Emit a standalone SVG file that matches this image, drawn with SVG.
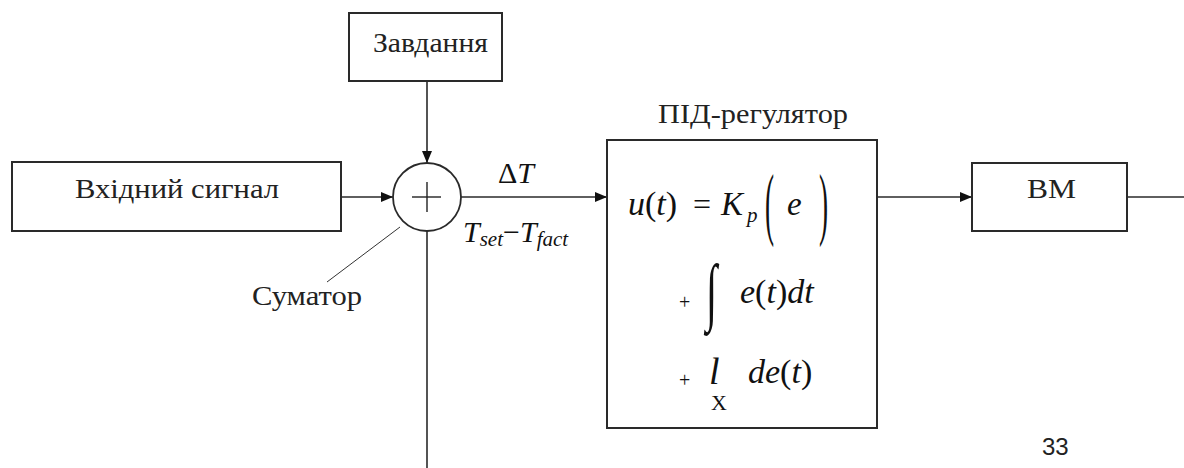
<svg xmlns="http://www.w3.org/2000/svg" width="1184" height="468" viewBox="0 0 1184 468">
<defs>
<style>
.box{fill:#fff;stroke:#2a2a2a;stroke-width:2}
.ln{fill:none;stroke:#2a2a2a;stroke-width:1.6}
.lbl{font-size:27px;fill:#222}
.m{font-style:italic;fill:#111}
.mu{font-style:normal;fill:#111}
</style>
<marker id="ah" viewBox="0 0 12 10" refX="12" refY="5" markerWidth="12" markerHeight="10" markerUnits="userSpaceOnUse" orient="auto">
<path d="M0,0 L12,5 L0,10 z" fill="#111"/>
</marker>
</defs>
<rect width="1184" height="468" fill="#fff"/>

<g id="connectors">
<line class="ln" x1="427" y1="81" x2="427" y2="163" marker-end="url(#ah)"/>
<line class="ln" x1="341" y1="197" x2="393" y2="197" marker-end="url(#ah)"/>
<line class="ln" x1="461" y1="197" x2="607" y2="197" marker-end="url(#ah)"/>
<line class="ln" x1="427" y1="231" x2="427" y2="468"/>
<line class="ln" x1="877" y1="197" x2="972" y2="197" marker-end="url(#ah)"/>
<line class="ln" x1="1127" y1="197" x2="1184" y2="197"/>
<line x1="400" y1="227" x2="327" y2="282" stroke="#333" stroke-width="1"/>
</g>

<g font-family="Liberation Serif, Times New Roman, serif">
<g id="zavdannya">
<rect class="box" x="349" y="13" width="153" height="68"/>
<text class="lbl" x="373" y="52" textLength="115" lengthAdjust="spacingAndGlyphs">Завдання</text>
</g>

<g id="vkhidnyi">
<rect class="box" x="12" y="162" width="329" height="69"/>
<text class="lbl" x="75" y="198" textLength="204" lengthAdjust="spacingAndGlyphs">Вхідний сигнал</text>
</g>

<g id="sumator">
<circle cx="427" cy="197" r="34" fill="#fff" stroke="#2a2a2a" stroke-width="1.8"/>
<line x1="412" y1="197" x2="441" y2="197" stroke="#222" stroke-width="1.4"/>
<line x1="427" y1="182" x2="427" y2="212" stroke="#222" stroke-width="1.4"/>
<text class="lbl" x="252" y="305" textLength="110" lengthAdjust="spacingAndGlyphs">Суматор</text>
</g>

<g id="delta-label">
<text class="mu" x="498" y="183" font-size="30">Δ<tspan class="m">T</tspan></text>
<text class="m" x="463" y="242" font-size="30">T<tspan font-size="21" dy="4">set</tspan><tspan class="mu" font-size="30" dy="-4">−</tspan><tspan font-size="30">T</tspan><tspan font-size="21" dy="4">fact</tspan></text>
</g>

<g id="pid">
<text class="lbl" x="658" y="123" textLength="190" lengthAdjust="spacingAndGlyphs">ПІД-регулятор</text>
<rect class="box" x="607" y="140" width="270" height="288"/>
<text class="m" x="628" y="215" font-size="34">u<tspan class="mu">(</tspan>t<tspan class="mu">)</tspan></text>
<text class="mu" x="693" y="215" font-size="32">=</text>
<text class="m" x="721" y="215" font-size="33">K</text>
<text class="m" x="747" y="222" font-size="21">p</text>
<text class="mu" font-size="34" transform="translate(765,230) scale(0.8,2.35)">(</text>
<text class="m" x="787" y="215" font-size="33">e</text>
<text class="mu" font-size="34" transform="translate(819,230) scale(0.8,2.35)">)</text>
<text class="mu" x="679" y="309" font-size="20">+</text>
<text class="mu" font-size="48" transform="translate(706,316) scale(0.85,1.55)">∫</text>
<text class="m" x="740" y="303" font-size="34">e<tspan class="mu">(</tspan>t<tspan class="mu">)</tspan>dt</text>
<text class="mu" x="679" y="387" font-size="20">+</text>
<text class="m" x="709" y="384" font-size="38">l</text>
<text class="mu" x="711" y="410" font-size="22">Χ</text>
<text class="m" x="748" y="383" font-size="34">de<tspan class="mu">(</tspan>t<tspan class="mu">)</tspan></text>
</g>

<g id="vm">
<rect class="box" x="972" y="163" width="155" height="68"/>
<text class="lbl" x="1027" y="198" textLength="49" lengthAdjust="spacingAndGlyphs">ВМ</text>
</g>
</g>

<text x="1042" y="455" font-family="Liberation Sans, Arial, sans-serif" font-size="24" fill="#222">33</text>
</svg>
